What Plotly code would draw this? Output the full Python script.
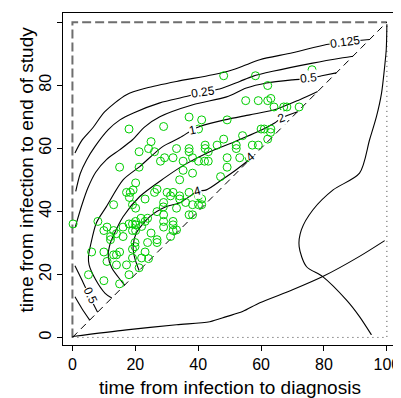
import plotly.graph_objects as go

FONT = "Liberation Sans, Arial, Helvetica, sans-serif"

# ---- frame lines (data units) ----
border_x = [0, 0, 100]
border_y = [0, 100, 100]
diag_x = [0, 100]
diag_y = [0, 100]
dot_x = [0, 100, 100]
dot_y = [0, 0, 100]

# ---- contour lines ----
c0125_x = [0.8, 3, 6.5, 10.3, 17.2, 23.5, 33.1, 44.6, 51, 55.3, 59.6, 70, 80.8, 87, 94.5]
c0125_y = [58.5, 62.5, 66.5, 71.6, 77.0, 79.1, 81.2, 83.3, 84.9, 86.5, 88.1, 90.3, 92.9, 93.8, 94.5]

c025_x = [1.05, 2.5, 4.5, 7.2, 11.4, 15.1, 19.4, 27.8, 36.2, 41.6, 46.8, 53.2, 57.3, 63.7, 76.4, 86, 89.2]
c025_y = [46.3, 52, 56.3, 60.6, 65.9, 69.0, 71.2, 74.4, 76.4, 77.9, 78.8, 81.2, 82.8, 84.4, 87.0, 88.7, 89.2]
c025b_x = [0.8, 3, 5.5]
c025b_y = [12.9, 9.2, 5.5]

c05_x = [0.9, 3.0, 4.9, 7.4, 10.9, 15.0, 19.1, 23.0, 27.8, 38.3, 49.0, 55.3, 61.7, 70.0, 75.0, 79.3, 83.9]
c05_y = [35.0, 42.0, 47.4, 52.4, 56.5, 59.5, 62.7, 66.8, 70.0, 73.8, 76.3, 79.1, 80.7, 81.7, 82.1, 83.0, 83.9]
c05b_x = [0.8, 3.5, 5.7, 8.0]
c05b_y = [22.7, 17.2, 12.5, 8.0]

c1_x = [12.5, 10.4, 7.4, 5.3, 5.1, 5.8, 7.6, 10.8, 16.1, 21.4, 28.8, 34.1, 38.3, 40.5, 48.4, 56.4, 64.3, 72.3, 78.0]
c1_y = [12.5, 14.0, 18.3, 23.0, 25.7, 29.4, 36.3, 41.5, 50.0, 54.2, 60.6, 63.3, 65.9, 66.9, 69.0, 70.6, 72.2, 75.4, 78.0]

c2_x = [16.6, 15.7, 12.5, 11.4, 11.9, 12.9, 16.1, 21.4, 29.3, 35.7, 43.0, 51.6, 58.9, 64.3, 66.5, 71.6]
c2_y = [16.6, 17.7, 22.1, 25.7, 29.4, 32.0, 38.3, 44.7, 50.6, 54.8, 58.6, 62.1, 65.2, 68.0, 69.6, 71.6]

c4_x = [21.2, 19.8, 19.3, 20.3, 24.6, 29.9, 34.1, 39.8, 42.6, 47.5, 52.1, 57.0]
c4_y = [21.2, 25.2, 28.8, 33.1, 38.3, 41.5, 42.7, 46.3, 46.8, 50.0, 53.2, 57.0]

contour_lines = [
    (c0125_x, c0125_y), (c025_x, c025_y), (c025b_x, c025b_y),
    (c05_x, c05_y), (c05b_x, c05b_y), (c1_x, c1_y), (c2_x, c2_y), (c4_x, c4_y),
]

label_text = ["0.125", "0.25", "0.5", "0.5", "1", "2", "4", "4"]
label_x = [86.6, 41.6, 75.0, 5.6, 38.3, 66.5, 39.8, 56.6]
label_y = [93.7, 77.8, 82.2, 13.4, 65.9, 69.6, 46.3, 57.2]
label_angle = [-8, -8, -6, 65, -12, -20, -15, -40]

# ---- marginal curves ----
bottom_x = [0, 17.2, 33.1, 43.7, 49, 54.1, 59.6, 70, 79.6, 91.3, 99.3]
bottom_y = [0.3, 2.4, 4.0, 5.0, 6.6, 8.2, 11, 15.1, 19.3, 25.7, 30.7]
right_x = [100, 99.8, 99.3, 98.3, 96.7, 94.5, 91.3, 82.9, 76.5, 72.8, 72.1, 74.4, 79.6, 87.1, 91.3, 95.1]
right_y = [99.3, 91.3, 86, 77.5, 70.1, 62.7, 52.1, 46.8, 40.5, 34.1, 28.8, 22.5, 19.3, 11.9, 6.6, 0.8]

# ---- observed points ----
pts_x = [83.1, 48.1, 58.2, 76.2, 62.1, 55.1, 59.1, 62.1, 63.1, 64.1,
         67.2, 68.2, 72.1, 37.1, 41.1, 49.2, 29.0, 18.0, 40.1, 60.0,
         61.0, 63.1, 63.0, 54.1, 48.1, 62.1, 25.0, 21.2, 24.2, 26.1,
         33.1, 37.1, 37.1, 42.2, 42.2, 43.2, 46.0, 52.1, 52.1, 57.2,
         59.1, 29.3, 28.0, 32.0, 35.2, 38.2, 40.1, 42.0, 43.2, 49.2,
         53.2, 56.2, 15.0, 21.2, 35.2, 38.2, 49.2, 47.1, 34.1, 20.1,
         17.2, 18.4, 19.3, 26.9, 26.1, 30.1, 32.0, 31.2, 34.1, 34.1,
         37.1, 40.1, 41.1, 23.1, 29.0, 36.0, 13.1, 19.1, 20.1, 38.2,
         40.1, 41.1, 33.1, 26.9, 37.1, 38.2, 29.0, 23.9, 23.1, 20.1,
         20.1, 29.0, 29.0, 32.0, 32.0, 33.1, 32.0, 0.2, 8.1, 10.0,
         11.0, 13.1, 14.0, 18.0, 19.1, 19.1, 20.1, 16.1, 16.1, 12.1,
         12.1, 25.0, 31.2, 26.9, 26.9, 23.9, 19.9, 19.9, 19.1, 23.1,
         6.1, 10.0, 15.0, 13.1, 14.0, 11.0, 19.1, 22.0, 24.2, 14.0,
         17.2, 21.2, 5.1, 10.0, 18.0, 15.0, 18.1, 28.9, 21.8, 22.0]
pts_y = [93.9, 83.0, 83.0, 84.9, 79.9, 75.1, 75.1, 75.1, 75.8, 73.1,
         73.1, 73.1, 73.1, 69.9, 69.0, 69.0, 66.9, 66.1, 66.1, 66.1,
         66.1, 66.1, 65.0, 64.0, 62.9, 62.9, 62.1, 58.9, 59.9, 58.9,
         59.9, 59.9, 58.9, 61.0, 59.9, 58.9, 61.0, 61.0, 59.9, 61.0,
         61.0, 57.0, 55.9, 57.0, 55.9, 57.0, 55.9, 55.9, 55.9, 57.0,
         57.0, 57.0, 54.0, 54.0, 53.0, 52.1, 54.0, 51.0, 50.0, 49.0,
         46.0, 46.0, 46.8, 47.0, 46.0, 46.0, 46.0, 44.9, 44.9, 43.9,
         46.0, 44.9, 43.9, 43.9, 42.8, 42.8, 42.1, 42.1, 41.0, 42.1,
         42.1, 42.1, 41.0, 39.9, 38.9, 38.9, 38.9, 37.8, 36.8, 36.8,
         35.7, 36.8, 35.0, 36.8, 35.7, 34.1, 33.9, 36.0, 36.8, 33.9,
         35.0, 33.9, 32.9, 36.0, 36.0, 33.9, 33.9, 35.0, 32.0, 32.0,
         31.0, 33.1, 32.0, 31.0, 30.1, 30.1, 30.1, 28.8, 28.0, 27.1,
         27.1, 27.1, 27.1, 26.2, 26.2, 24.1, 25.2, 25.2, 25.0, 23.0,
         23.0, 22.1, 19.9, 18.0, 19.9, 17.0, 44.4, 41.4, 37.8, 35.2]

x_ticks = [0, 20, 40, 60, 80, 100]
y_ticks = [0, 20, 40, 60, 80, 100]

fig = go.Figure()

fig.add_trace(go.Scatter(x=border_x, y=border_y, mode="lines",
                         line=dict(color="#6e6e6e", width=2, dash="9px,4px"),
                         hoverinfo="skip", showlegend=False))
fig.add_trace(go.Scatter(x=diag_x, y=diag_y, mode="lines",
                         line=dict(color="black", width=1, dash="7px,5px"),
                         hoverinfo="skip", showlegend=False))
fig.add_trace(go.Scatter(x=dot_x, y=dot_y, mode="lines",
                         line=dict(color="#444444", width=1, dash="1px,4px"),
                         hoverinfo="skip", showlegend=False))

for cx, cy in contour_lines:
    fig.add_trace(go.Scatter(x=cx, y=cy, mode="lines",
                             line=dict(color="black", width=1.1, shape="spline", smoothing=0.8),
                             hoverinfo="skip", showlegend=False))

fig.add_trace(go.Scatter(x=bottom_x, y=bottom_y, mode="lines",
                         line=dict(color="black", width=1.1, shape="spline", smoothing=0.8),
                         hoverinfo="skip", showlegend=False))
fig.add_trace(go.Scatter(x=right_x, y=right_y, mode="lines",
                         line=dict(color="black", width=1.1, shape="spline", smoothing=0.8),
                         hoverinfo="skip", showlegend=False))

for t, lx, ly, a in zip(label_text, label_x, label_y, label_angle):
    fig.add_annotation(x=lx, y=ly, xref="x", yref="y", text=t, showarrow=False,
                       textangle=a, bgcolor="white", borderpad=0,
                       font=dict(family=FONT, size=12, color="black"))

fig.add_trace(go.Scatter(x=pts_x, y=pts_y, mode="markers",
                         marker=dict(symbol="circle-open", size=8, color="#00cd00",
                                     line=dict(width=1, color="#00cd00")),
                         hoverinfo="skip", showlegend=False))

axis_common = dict(showgrid=False, zeroline=False, showline=True, mirror=True,
                   linecolor="black", linewidth=1, ticks="outside", ticklen=5,
                   tickcolor="black", tickwidth=1, automargin=False,
                   tickfont=dict(family=FONT, size=16, color="black"))

# the page body adds an 8px offset; the figure is sized so the plot lands where the reference has it
fig.update_layout(
    width=393, height=390,
    margin=dict(l=55, r=5, t=5, b=53, autoexpand=False),
    paper_bgcolor="white", plot_bgcolor="white",
    xaxis=dict(range=[-3, 102.9], tickvals=x_ticks, **axis_common),
    yaxis=dict(range=[-2.4, 102.9], tickvals=y_ticks, tickangle=-90, **axis_common),
    showlegend=False,
)

fig.add_annotation(text="time from infection to diagnosis", xref="paper", yref="paper",
                   x=0.5, y=-0.1295, xanchor="center", yanchor="middle", showarrow=False,
                   font=dict(family=FONT, size=19, color="black"))
fig.add_annotation(text="time from infection to end of study", xref="paper", yref="paper",
                   x=-0.110, y=0.53, xanchor="center", yanchor="middle", showarrow=False,
                   textangle=-90, font=dict(family=FONT, size=19, color="black"))

fig.write_html("out.html")
